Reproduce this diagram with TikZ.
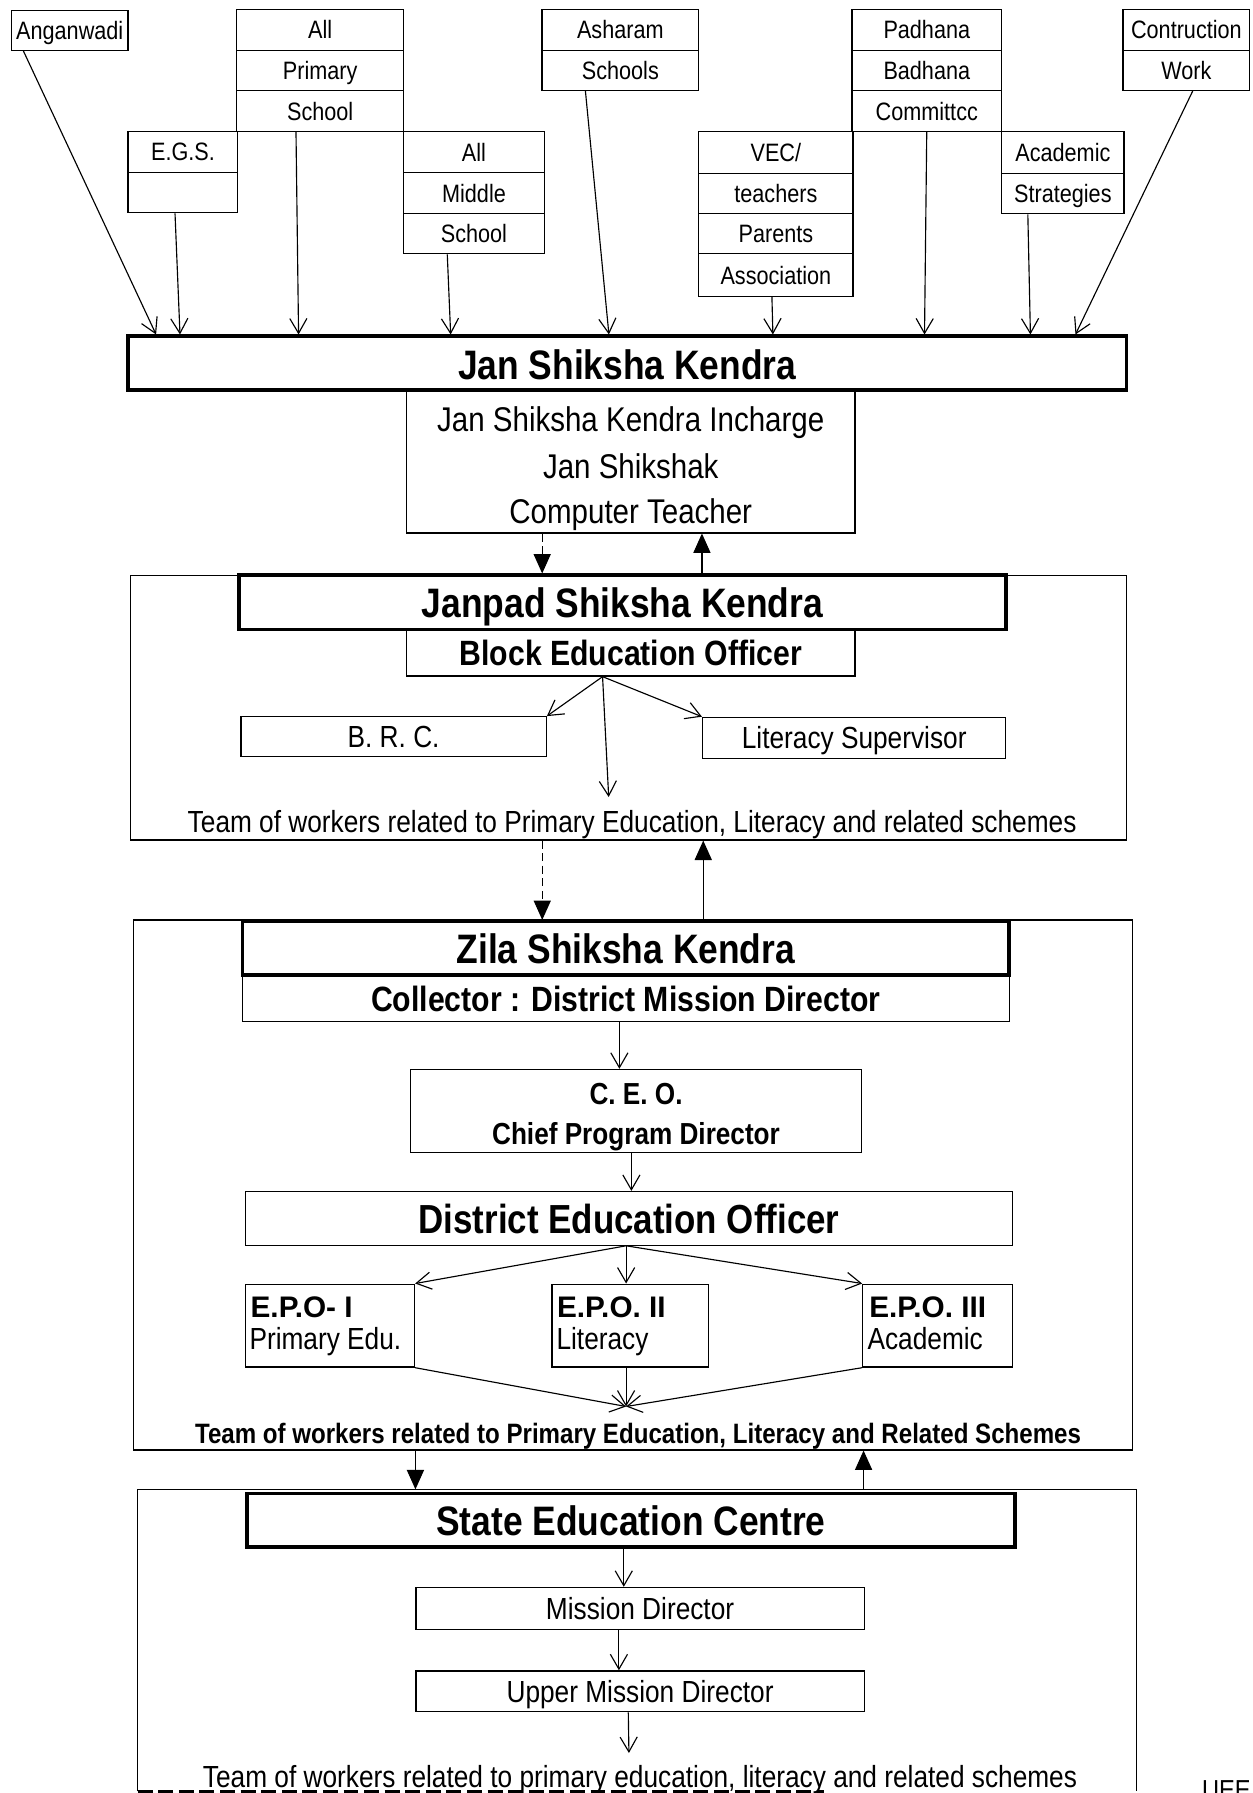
\documentclass[tikz,border=0pt]{standalone}
\usepackage{fontspec}
\setmainfont{Liberation Sans}[FakeStretch=0.86]
\newfontfamily\widefont{Liberation Sans}
\usetikzlibrary{arrows.meta}
\newcommand\fs[1]{\fontsize{#1}{#1}\selectfont}
\tikzset{
  cell/.style={draw, line width=1.1pt, inner sep=0pt, text depth=0pt, font=\fs{22}},
  ttl/.style={draw, line width=3pt, inner sep=0pt, text depth=0pt, font={\bfseries\fs{36}}},
  frame/.style={draw, line width=1pt, inner sep=0pt},
  lbl/.style={inner sep=0pt, anchor=base},
  epohead/.style={inner sep=0pt, anchor=base west, font={\widefont\bfseries\fs{26}}},
  epotext/.style={inner sep=0pt, anchor=base west, font=\fs{26.7}},
  oarr/.style={line width=1pt, -{Straight Barb[length=13pt,width=15pt,line width=1pt]}},
  farr/.style={line width=1pt, -{Triangle[length=17pt,width=15pt]}},
  brk/.style={dash pattern=on 7pt off 4pt},
}
\newcommand\rbox[7][]{%
  \pgfmathsetmacro\rbw{#5-#3}\pgfmathsetmacro\rbh{#6-#4}%
  \node[cell,#1,minimum width=\rbw pt,minimum height=\rbh pt] (#2) at ({(#3+#5)/2},{(#4+#6)/2}) {#7};}
\begin{document}
\begin{tikzpicture}[x=1pt,y=-1pt]
\path[fill=white,use as bounding box] (0,0) rectangle (1095,1568);
% ---------- top row ----------
\rbox{ang}{10}{9}{112}{44}{Anganwadi}
\rbox{aps1}{207}{8}{353}{44}{All}
\rbox{aps2}{207}{44}{353}{79}{Primary}
\rbox{aps3}{207}{79}{353}{115}{School}
\rbox{egs1}{112}{115}{208}{151}{E.G.S.}
\rbox{egs2}{112}{151}{208}{186}{}
\rbox{ams1}{353}{115}{476}{151}{All}
\rbox{ams2}{353}{151}{476}{187}{Middle}
\rbox{ams3}{353}{187}{476}{222}{School}
\rbox{ash1}{474}{8}{611}{44}{Asharam}
\rbox{ash2}{474}{44}{611}{79}{Schools}
\rbox{pbc1}{745}{8}{876}{44}{Padhana}
\rbox{pbc2}{745}{44}{876}{79}{Badhana}
\rbox{pbc3}{745}{79}{876}{115}{Committcc}
\rbox{vec1}{611}{115}{746}{152}{VEC/}
\rbox{vec2}{611}{152}{746}{187}{teachers}
\rbox{vec3}{611}{187}{746}{222}{Parents}
\rbox{vec4}{611}{222}{746}{259}{Association}
\rbox{acs1}{876}{115}{983}{152}{Academic}
\rbox{acs2}{876}{152}{983}{187}{Strategies}
\rbox{con1}{982}{8}{1093}{44}{Contruction}
\rbox{con2}{982}{44}{1093}{79}{Work}
% ---------- Jan Shiksha Kendra ----------
\rbox{inch}{355.6}{341}{747.6}{466}{}
\rbox[ttl]{jsk}{112}{294}{985}{341}{\raisebox{-3pt}{Jan Shiksha Kendra}}
\node[lbl,font=\fs{30}] (inc1) at (551.6,377.7) {Jan Shiksha Kendra Incharge};
\node[lbl,font=\fs{30}] (inc2) at (551.6,418.3) {Jan Shikshak};
\node[lbl,font=\fs{30}] (inc3) at (551.6,458.2) {Computer Teacher};
% arrows into Jan Shiksha Kendra
\draw[oarr] ([xshift=11pt]ang.south west) -- ([xshift=26pt]jsk.north west);
\draw[oarr] ([xshift=41.6pt]egs2.south west) -- ([xshift=46.9pt]jsk.north west);
\draw[oarr] ([xshift=52.4pt]aps3.south west) -- ([xshift=150.6pt]jsk.north west);
\draw[oarr] ([xshift=38.7pt]ams3.south west) -- ([xshift=283.6pt]jsk.north west);
\draw[oarr] ([xshift=38.5pt]ash2.south west) -- ([xshift=422pt]jsk.north west);
\draw[oarr] ([xshift=64.6pt]vec4.south west) -- ([xshift=565.4pt]jsk.north west);
\draw[oarr] ([xshift=66pt]pbc3.south west) -- ([xshift=698pt]jsk.north west);
\draw[oarr] ([xshift=23.4pt]acs2.south west) -- ([xshift=790.6pt]jsk.north west);
\draw[oarr] ([xshift=61.6pt]con2.south west) -- ([xshift=830pt]jsk.north west);
% ---------- Janpad ----------
\rbox[frame]{jpo}{114}{503}{985}{734.6}{}
\rbox[font={\bfseries\fs{30.7}}]{beo}{355.6}{550.5}{747.6}{591.2}{Block Education Officer}
\rbox[ttl]{jpt}{209}{503}{879.6}{550.5}{Janpad Shiksha Kendra}
\rbox[font=\fs{26.7}]{brc}{210.7}{626.8}{477.7}{661.8}{B. R. C.}
\rbox[font=\fs{26.7}]{ls}{614.4}{627.3}{879.6}{663}{Literacy Supervisor}
\node[lbl,font=\fs{26.7}] (t1) at (552.8,728) {Team of workers related to Primary Education, Literacy and related schemes};
\coordinate (d1) at ([xshift=119.1pt]inch.south west);
\coordinate (u1) at ([xshift=258.8pt]inch.south west);
\draw[farr,brk] (d1) -- (d1 |- jpt.north);
\draw[farr] (u1 |- jpt.north) -- (u1);
\coordinate (f1) at ([xshift=171.9pt]beo.south west);
\coordinate (f1t) at (532.3,697);
\draw[oarr] (f1) -- (brc.north east);
\draw[oarr] (f1) -- (ls.north west);
\draw[oarr] (f1) -- (f1t);
% ---------- Zila ----------
\rbox[frame]{zo}{117}{804.6}{990}{1268}{}
\rbox[font={\bfseries\fs{30.7}}]{col}{212}{852.7}{882.5}{893.5}{Collector : District Mission Director}
\rbox[ttl]{zpt}{212}{806}{882.5}{852.7}{Zila Shiksha Kendra}
\coordinate (d2) at ([xshift=360.7pt]jpo.south west);
\coordinate (u2) at ([xshift=501.5pt]jpo.south west);
\draw[farr,brk] (d2) -- (d2 |- zpt.north);
\draw[farr] (u2 |- zpt.north) -- (u2);
\rbox{ceo}{359}{935.2}{753.5}{1007.8}{}
\node[lbl,font={\bfseries\fs{26.6}}] (ceo1) at (556.2,965.7) {C. E. O.};
\node[lbl,font={\bfseries\fs{26.6}}] (ceo2) at (556.2,1000.7) {Chief Program Director};
\coordinate (c1) at ([xshift=330.2pt]col.south west);
\draw[oarr] (c1) -- (c1 |- ceo.north);
\rbox[font={\bfseries\fs{35.5}}]{deo}{214.8}{1042}{885.4}{1088.9}{District Education Officer}
\coordinate (c2) at ([xshift=193.7pt]ceo.south west);
\draw[oarr] (c2) -- (c2 |- deo.north);
\rbox{epo1}{215}{1123}{362.5}{1195.5}{}
\rbox{epo2}{482.7}{1123}{619.6}{1195.5}{}
\rbox{epo3}{754.5}{1123}{885.6}{1195.5}{}
\node[epohead] (e1a) at (219,1152) {E.P.O- I};
\node[epotext] (e1b) at (218,1180) {Primary Edu.};
\node[epohead] (e2a) at (487,1152) {E.P.O. II};
\node[epotext] (e2b) at (486.5,1180) {Literacy};
\node[epohead] (e3a) at (760,1152) {E.P.O. III};
\node[epotext] (e3b) at (758.5,1180) {Academic};
\coordinate (f2) at ([xshift=333.3pt]deo.south west);
\draw[oarr] (f2) -- (epo1.north east);
\draw[oarr] (f2) -- (f2 |- epo2.north);
\draw[oarr] (f2) -- (epo3.north west);
\coordinate (cv) at (547.5,1230);
\draw[oarr] (epo1.south east) -- (cv);
\draw[oarr] (cv |- epo2.south) -- (cv);
\draw[oarr] (epo3.south west) -- (cv);
\node[lbl,font={\bfseries\fs{24.5}}] (t2) at (558,1262) {Team of workers related to Primary Education, Literacy and Related Schemes};
% ---------- State ----------
\rbox[draw=none]{so}{121}{1303}{993.5}{1566}{}
\draw[line width=1pt] (so.south west) -- (so.north west) -- (so.north east) -- (so.south east);
\draw[line width=2.6pt, dash pattern=on 13pt off 5pt] (so.south west) -- ([xshift=600pt]so.south west);
\rbox[ttl]{sct}{216}{1306}{887.5}{1352.7}{State Education Centre}
\coordinate (d3) at ([xshift=246.8pt]zo.south west);
\coordinate (u3) at ([xshift=638.7pt]zo.south west);
\draw[farr] (d3) -- (d3 |- so.north);
\draw[farr] (u3 |- so.north) -- (u3);
\rbox[font=\fs{26.7}]{md}{363.8}{1388.2}{755.7}{1425}{Mission Director}
\rbox[font=\fs{26.7}]{umd}{363.8}{1461.2}{755.7}{1497}{Upper Mission Director}
\coordinate (s1) at ([xshift=331pt]sct.south west);
\draw[oarr] (s1) -- (s1 |- md.north);
\coordinate (s2) at ([xshift=178pt]md.south west);
\draw[oarr] (s2) -- (s2 |- umd.north);
\coordinate (s3) at ([xshift=186.2pt]umd.south west);
\coordinate (s3t) at (550,1533);
\draw[oarr] (s3) -- (s3t);
\node[lbl,font=\fs{26.7}] (t3) at (559.7,1563.4) {Team of workers related to primary education, literacy and related schemes};
\node[lbl,anchor=north west,font=\fs{24}] (uee) at (1051,1557) {UEE};
\end{tikzpicture}
\end{document}
